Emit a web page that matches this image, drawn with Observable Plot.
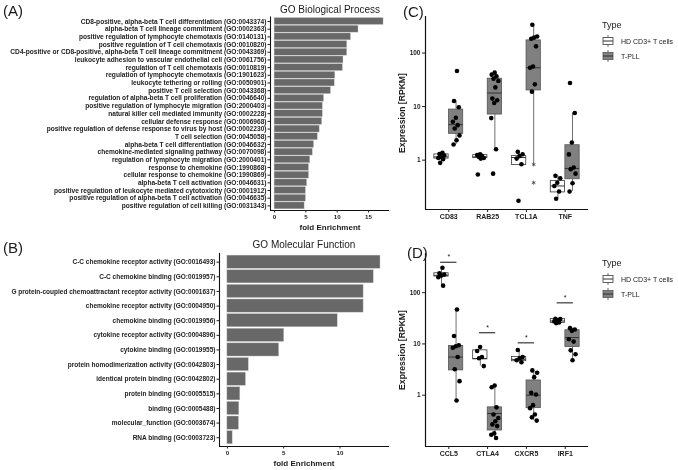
<!DOCTYPE html>
<html><head><meta charset="utf-8">
<script src="https://cdn.jsdelivr.net/npm/d3@7"></script>
<script src="https://cdn.jsdelivr.net/npm/@observablehq/plot@0.6"></script>
<style>
body{margin:0;background:#fff;}
#root{position:relative;width:678px;height:470px;overflow:hidden;background:#fff;}
#root svg.panel{position:absolute;overflow:visible;will-change:transform;}
#overlay{position:absolute;left:0;top:0;pointer-events:none;will-change:transform;}
svg text{-webkit-font-smoothing:antialiased;}
</style></head>
<body><div id="root"></div>
<script>
const FONT = '"Liberation Sans", Arial, sans-serif';

// ---------- Panel A: GO Biological Process ----------
const bpTerms = [
  "CD8-positive, alpha-beta T cell differentiation (GO:0043374)",
  "alpha-beta T cell lineage commitment (GO:0002363)",
  "positive regulation of lymphocyte chemotaxis (GO:0140131)",
  "positive regulation of T cell chemotaxis (GO:0010820)",
  "CD4-positive or CD8-positive, alpha-beta T cell lineage commitment (GO:0043369)",
  "leukocyte adhesion to vascular endothelial cell (GO:0061756)",
  "regulation of T cell chemotaxis (GO:0010819)",
  "regulation of lymphocyte chemotaxis (GO:1901623)",
  "leukocyte tethering or rolling (GO:0050901)",
  "positive T cell selection (GO:0043368)",
  "regulation of alpha-beta T cell proliferation (GO:0046640)",
  "positive regulation of lymphocyte migration (GO:2000403)",
  "natural killer cell mediated immunity (GO:0002228)",
  "cellular defense response (GO:0006968)",
  "positive regulation of defense response to virus by host (GO:0002230)",
  "T cell selection (GO:0045058)",
  "alpha-beta T cell differentiation (GO:0046632)",
  "chemokine-mediated signaling pathway (GO:0070098)",
  "regulation of lymphocyte migration (GO:2000401)",
  "response to chemokine (GO:1990868)",
  "cellular response to chemokine (GO:1990869)",
  "alpha-beta T cell activation (GO:0046631)",
  "positive regulation of leukocyte mediated cytotoxicity (GO:0001912)",
  "positive regulation of alpha-beta T cell activation (GO:0046635)",
  "positive regulation of cell killing (GO:0031343)"
];
const bpFold = [17.4, 13.4, 12.2, 11.6, 11.6, 11.0, 10.9, 9.7, 9.6, 9.0, 7.9, 7.7, 7.7, 7.6, 7.2, 6.9, 6.3, 6.1, 5.7, 5.5, 5.5, 5.2, 5.0, 5.0, 4.8];
const bpTicks = [0, 5, 10, 15];

// ---------- Panel B: GO Molecular Function ----------
const mfTerms = [
  "C-C chemokine receptor activity (GO:0016493)",
  "C-C chemokine binding (GO:0019957)",
  "G protein-coupled chemoattractant receptor activity (GO:0001637)",
  "chemokine receptor activity (GO:0004950)",
  "chemokine binding (GO:0019956)",
  "cytokine receptor activity (GO:0004896)",
  "cytokine binding (GO:0019955)",
  "protein homodimerization activity (GO:0042803)",
  "identical protein binding (GO:0042802)",
  "protein binding (GO:0005515)",
  "binding (GO:0005488)",
  "molecular_function (GO:0003674)",
  "RNA binding (GO:0003723)"
];
const mfFold = [13.6, 13.0, 12.1, 12.1, 9.8, 5.05, 4.6, 1.9, 1.65, 1.15, 1.06, 1.03, 0.47];
const mfTicks = [0, 5, 10];

// ---------- Panel C ----------
const genesC = ["CD83", "RAB25", "TCL1A", "TNF"];
const typeNames = ["HD CD3+ T cells", "T-PLL"];
const cHDPts = [
  [1.37, 1.3, 1.22, 1.15, 1.1, 1.04, 0.89],
  [1.29, 1.25, 1.2, 1.15, 1.1, 1.07, 0.54],
  [1.43, 1.29, 1.19, 1.07, 0.84, 0.175],
  [0.51, 0.46, 0.38, 0.33, 0.26, 0.19]
];
const cTPPts = [
  [46, 12.7, 9.7, 6.2, 5.2, 4.5, 3.9, 2.9, 2.36, 1.96],
  [43, 39.4, 36.6, 33.2, 30, 22.8, 14.1, 13.1, 11.7, 6.1, 1.6, 0.56],
  [336, 203, 194, 185, 133, 56, 53, 26, 19],
  [27.5, 7.6, 2.13, 1.28, 0.73, 0.68, 0.56, 0.37, 0.26]
];
// [lower whisker, Q1, median, Q3, upper whisker]
const cHDBox = [
  [0.89, 1.07, 1.15, 1.28, 1.37],
  [1.07, 1.1, 1.15, 1.24, 1.29],
  [0.81, 0.81, 1.12, 1.19, 1.43],
  [0.19, 0.25, 0.33, 0.41, 0.51]
];
const cTPBox = [
  [1.96, 3.1, 4.6, 8.8, 12.7],
  [1.6, 7.1, 17.9, 33.2, 43],
  [0.83, 20, 53, 172, 336],
  [0.26, 0.44, 0.70, 1.9, 7.6]
];
const cStarGene = "TCL1A";
const cStarValues = [0.83, 0.38];

// ---------- Panel D ----------
const genesD = ["CCL5", "CTLA4", "CXCR5", "IRF1"];
const dHDPts = [
  [305, 239, 225, 215, 200, 137],
  [8.7, 7.3, 5.55, 5.25, 3.7],
  [7.6, 5.55, 5.25, 4.8, 4.4],
  [31, 30.5, 29, 27.5, 26.2, 25.5]
];
const dTPPts = [
  [47, 14.3, 9.4, 9.0, 8.4, 5.55, 3.2, 1.88, 0.79],
  [1.55, 1.43, 0.58, 0.42, 0.36, 0.31, 0.27, 0.25, 0.18, 0.17, 0.146],
  [3.05, 2.74, 2.25, 1.11, 1.03, 0.64, 0.56, 0.42, 0.37, 0.32],
  [20.3, 19.1, 18, 12.3, 11.1, 7.5, 6.3, 4.8]
];
const dHDBox = [
  [137, 206, 218, 239, 305],
  [3.7, 5.0, 5.2, 7.5, 8.7],
  [4.4, 4.6, 5.0, 5.55, 7.6],
  [25.5, 25.7, 28, 30.5, 31]
];
const dTPBox = [
  [0.79, 3.05, 5.55, 9.1, 47],
  [0.146, 0.205, 0.44, 0.58, 1.55],
  [0.32, 0.56, 1.0, 1.94, 3.05],
  [4.8, 8.7, 13.3, 18.5, 20.3]
];
const dSigLevel = [392, 16.5, 10.5, 63.2];
const dSigLabel = ["*", "*", "*", "*"];
const yTicks = [1, 10, 100];

const root = document.getElementById("root");

function place(svg, left, top) {
  svg.classList.add("panel");
  svg.style.left = left + "px";
  svg.style.top = top + "px";
  root.appendChild(svg);
}

function barPanel({terms, fold, ticks, width, height, ml, mr, mt, mb, xDomain, labelSize}) {
  const n = terms.length;
  const data = terms.map((t, i) => ({i, t, v: fold[i]}));
  return Plot.plot({
    width, height, marginLeft: ml, marginRight: mr, marginTop: mt, marginBottom: mb,
    style: {fontFamily: FONT, fontWeight: "bold", fontSize: labelSize + "px", color: "#222", background: "transparent", overflow: "visible"},
    x: {domain: xDomain, label: null},
    y: {domain: [n - 0.4, -0.6], label: null},
    marks: [
      Plot.rect(data, {x1: () => 0, x2: "v", y1: d => d.i - 0.45, y2: d => d.i + 0.45, fill: "#686868", stroke: "#c8c8c8", strokeWidth: 0.4}),
      Plot.ruleX([xDomain[0]], {stroke: "#111", strokeWidth: 1.1}),
      Plot.ruleY([n - 0.4], {stroke: "#111", strokeWidth: 1.1}),
      Plot.axisY(d3.range(n), {tickFormat: i => terms[i], tickSize: 2.5, tickPadding: 1.5, fontSize: labelSize, label: null}),
      Plot.axisX(ticks, {tickSize: 2.5, tickPadding: 1.5, fontSize: 6.2, label: null})
    ]
  });
}

function jit(k) { return (((k + 1) * 0.618034) % 1 - 0.5) * 0.2; }

function boxPanel({genes, hdPts, tpPts, hdBox, tpBox, yDomain, width, height, ml, mr, mt, mb, extra}) {
  const off = 0.1875, w = 0.372;
  const pts = [];
  [hdPts, tpPts].forEach((arr, t) => arr.forEach((vals, g) => vals.forEach((v, k) =>
    pts.push({x: g + 1 + (t ? off : -off) + jit(k + g * 3), v}))));
  const boxes = [];
  [hdBox, tpBox].forEach((arr, t) => arr.forEach((b, g) =>
    boxes.push({g: g + 1, t, c: g + 1 + (t ? off : -off), lo: b[0], q1: b[1], med: b[2], q3: b[3], hi: b[4]})));
  const x1 = d => d.t ? d.g + 0.004 : d.g - w;
  const x2 = d => d.t ? d.g + w : d.g - 0.004;
  return Plot.plot({
    width, height, marginLeft: ml, marginRight: mr, marginTop: mt, marginBottom: mb,
    style: {fontFamily: FONT, fontWeight: "bold", fontSize: "6.5px", color: "#222", background: "transparent", overflow: "visible"},
    x: {domain: [0.4, 4.6], label: null},
    y: {type: "log", domain: yDomain, label: null},
    marks: [
      Plot.ruleX(boxes, {x: "c", y1: "lo", y2: "q1", stroke: "#707070", strokeWidth: 1}),
      Plot.ruleX(boxes, {x: "c", y1: "q3", y2: "hi", stroke: "#707070", strokeWidth: 1}),
      Plot.rect(boxes, {filter: d => d.t === 0, x1, x2, y1: "q1", y2: "q3", fill: "#ffffff", stroke: "#3a3a3a", strokeWidth: 0.8}),
      Plot.rect(boxes, {filter: d => d.t === 1, x1, x2, y1: "q1", y2: "q3", fill: "#808080", stroke: "#555555", strokeWidth: 0.8}),
      Plot.ruleY(boxes, {y: "med", x1, x2, stroke: "#333", strokeWidth: 1}),
      ...(extra || []),
      Plot.dot(pts, {x: "x", y: "v", r: 2.3, fill: "#000", stroke: "none"}),
      Plot.ruleX([0.4], {stroke: "#111", strokeWidth: 1.2}),
      Plot.ruleY([yDomain[0]], {stroke: "#111", strokeWidth: 1.2}),
      Plot.axisY(yTicks, {tickFormat: d => String(d), tickSize: 3, tickPadding: 2, label: null}),
      Plot.axisX([1, 2, 3, 4], {tickFormat: d => genes[d - 1], tickSize: 3, tickPadding: 2, fontSize: 7, label: null})
    ]
  });
}

// Panel A
place(barPanel({terms: bpTerms, fold: bpFold, ticks: bpTicks, width: 395, height: 235,
  ml: 270, mr: 6, mt: 16.4, mb: 25, xDomain: [-0.65, 18.35], labelSize: 6.6}), 0, 0);
// Panel B
place(barPanel({terms: mfTerms, fold: mfFold, ticks: mfTicks, width: 395, height: 235,
  ml: 219, mr: 6, mt: 17.9, mb: 24, xDomain: [-0.7, 14.4], labelSize: 6.5}), 0, 235);

// Panel C
const starIdx = genesC.indexOf(cStarGene) + 1;
place(boxPanel({genes: genesC, hdPts: cHDPts, tpPts: cTPPts, hdBox: cHDBox, tpBox: cTPBox,
  yDomain: [0.12, 480], width: 215, height: 235, ml: 45, mr: 7, mt: 16, mb: 26,
  extra: [Plot.dot(cStarValues.map(v => ({x: starIdx + 0.1875, v})), {x: "x", y: "v", symbol: "asterisk", r: 1.9, stroke: "#444", strokeWidth: 0.8})]
}), 380, 0);

// Panel D
const sig = dSigLevel.map((v, g) => ({g: g + 1, v, s: dSigLabel[g]}));
place(boxPanel({genes: genesD, hdPts: dHDPts, tpPts: dTPPts, hdBox: dHDBox, tpBox: dTPBox,
  yDomain: [0.1, 580], width: 215, height: 235, ml: 45, mr: 7, mt: 18, mb: 24,
  extra: [
    Plot.ruleY(sig, {y: "v", x1: d => d.g - 0.21, x2: d => d.g + 0.21, stroke: "#111", strokeWidth: 1}),
    Plot.text(sig, {x: "g", y: "v", text: "s", dy: -5, fontSize: 7, fontWeight: "normal", fill: "#111"})
  ]
}), 380, 235);

// ---------- overlay texts & legends ----------
const ov = d3.select(root).append("svg").attr("id", "overlay").attr("width", 678).attr("height", 470)
  .style("font-family", FONT);
function txt(x, y, s, size, opts = {}) {
  const t = ov.append("text").attr("x", x).attr("y", y).text(s).attr("font-size", size)
    .attr("fill", opts.fill || "#1a1a1a").attr("text-anchor", opts.anchor || "start")
    .attr("font-weight", opts.weight || "normal");
  if (opts.rotate) t.attr("transform", `rotate(-90 ${x} ${y})`);
  return t;
}
txt(3, 16, "(A)", 15);
txt(330, 13, "GO Biological Process", 10, {anchor: "middle"});
txt(330, 230, "fold Enrichment", 8, {anchor: "middle", weight: "bold"});
txt(3, 253, "(B)", 15);
txt(304, 248, "GO Molecular Function", 10, {anchor: "middle"});
txt(304, 466, "fold Enrichment", 8, {anchor: "middle", weight: "bold"});
txt(403, 17, "(C)", 15);
txt(407, 258, "(D)", 15);
txt(405, 113, "Expression [RPKM]", 8.6, {anchor: "middle", weight: "bold", rotate: true});
txt(405, 350, "Expression [RPKM]", 8.6, {anchor: "middle", weight: "bold", rotate: true});

function legend(top) {
  txt(602, top, "Type", 9);
  typeNames.forEach((name, i) => {
    const cy = top + 13 + i * 15;
    const g = ov.append("g");
    g.append("line").attr("x1", 608).attr("x2", 608).attr("y1", cy - 6).attr("y2", cy + 6).attr("stroke", "#707070");
    g.append("rect").attr("x", 603).attr("y", cy - 3.5).attr("width", 10).attr("height", 7)
      .attr("fill", i ? "#808080" : "#fff").attr("stroke", i ? "#555" : "#3a3a3a").attr("stroke-width", 0.8);
    g.append("line").attr("x1", 603).attr("x2", 613).attr("y1", cy).attr("y2", cy).attr("stroke", "#333");
    txt(621, cy + 2.5, name, 7, {fill: "#1a1a1a"});
  });
}
legend(28);
legend(266);
</script>
</body></html>
